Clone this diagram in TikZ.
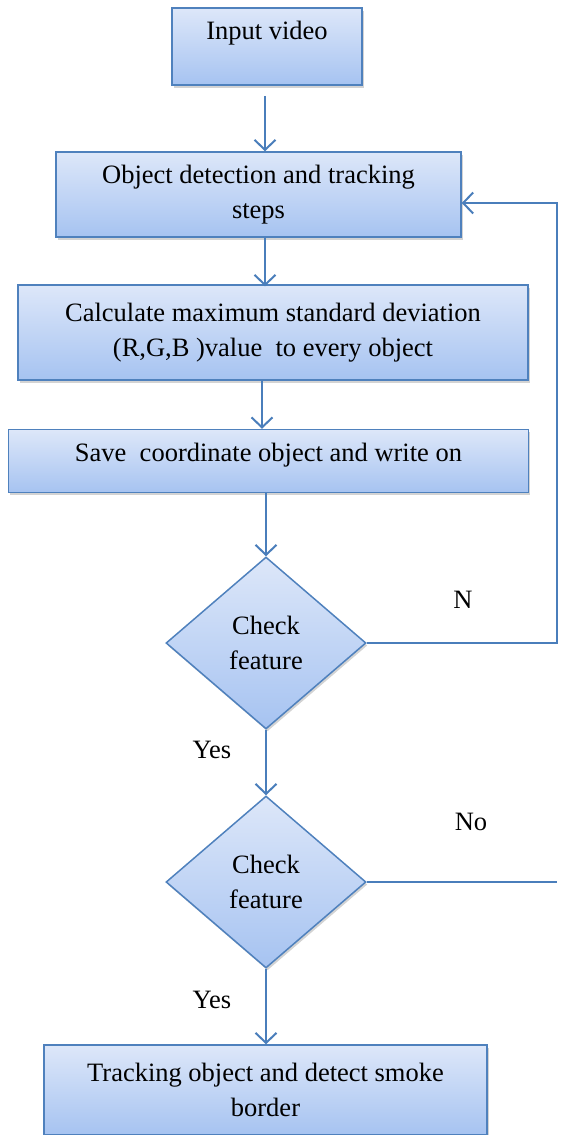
\documentclass[tikz,border=0pt]{standalone}
\usepackage{fontspec}
\setmainfont{Liberation Serif}
\usetikzlibrary{arrows.meta,shapes.geometric,shadows}
\definecolor{bord}{HTML}{4F81BD}
\definecolor{ltop}{HTML}{DDE7F9}
\definecolor{lbot}{HTML}{A6C3F1}
\definecolor{lnk}{HTML}{4A7EBB}
\begin{document}
\begin{tikzpicture}[x=1pt,y=-1pt,
  font=\fontsize{26.5}{34.5}\selectfont,
  boxstyle/.style={rectangle, draw=bord, line width=1.5pt, top color=ltop, bottom color=lbot,
    align=center, inner sep=0pt,
    drop shadow={shadow xshift=1.5pt, shadow yshift=-2.5pt, opacity=0.35}},
  decide/.style={diamond, draw=bord, line width=1.5pt, top color=ltop, bottom color=lbot,
    align=center, inner sep=0pt, minimum width=200pt, minimum height=172pt,
    drop shadow={shadow xshift=1.5pt, shadow yshift=-2.5pt, opacity=0.35}},
  arr/.style={draw=lnk, line width=2pt, -{Straight Barb[length=10pt,width=21pt,line width=2pt]}},
  lnkline/.style={draw=lnk, line width=2pt},
  lbl/.style={inner sep=0pt}]
\useasboundingbox (0,0) rectangle (561,1135);
\coordinate (col) at (265,0);
\coordinate (rail) at (557,203);

\node[boxstyle, minimum width=190pt, minimum height=77pt] (in) at (267,46.5) {Input video\\[-12pt]\strut};
\node[boxstyle, minimum width=405pt, minimum height=85pt] (obj) at (258.5,194.5) {Object detection and tracking\\steps};
\node[boxstyle, minimum width=510pt, minimum height=95pt] (calc) at (273,332.5) {Calculate maximum standard deviation\\(R,G,B )value\ \ to every object};
\node[boxstyle, minimum width=520pt, minimum height=63pt] (save) at (268.5,461) {Save\ \ coordinate object and write on\\[-27pt]\strut};
\node[decide] (d1) at (266,643) {Check\\feature};
\node[decide] (d2) at (266,882) {Check\\feature};
\node[boxstyle, minimum width=443pt, minimum height=90pt] (trk) at (265.5,1090) {Tracking object and detect smoke\\border};

\node[lbl] (ln) at (463,600) {N};
\node[lbl] (lno) at (471,822) {No};
\node[lbl] (ly1) at (212,750) {Yes};
\node[lbl] (ly2) at (212,1000) {Yes};

\draw[arr, shorten <=10pt] (in.south -| col) -- (obj.north -| col);
\draw[arr] (obj.south -| col) -- ([yshift=-2pt]calc.north -| col);
\draw[arr] ([xshift=-3pt]calc.south -| col) -- ([xshift=-3pt]save.north -| col);
\draw[arr] ([xshift=1pt]save.south -| col) -- ([xshift=1pt]d1.north -| col);
\draw[arr] (d1.south) -- (d2.north);
\draw[arr] (d2.south) -- (trk.north -| d2.south);

\draw[arr] (d1.east) -- (d1.east -| rail) -- (rail) -- (rail -| obj.east);
\draw[lnkline] (d2.east) -- (d2.east -| rail);
\end{tikzpicture}
\end{document}
